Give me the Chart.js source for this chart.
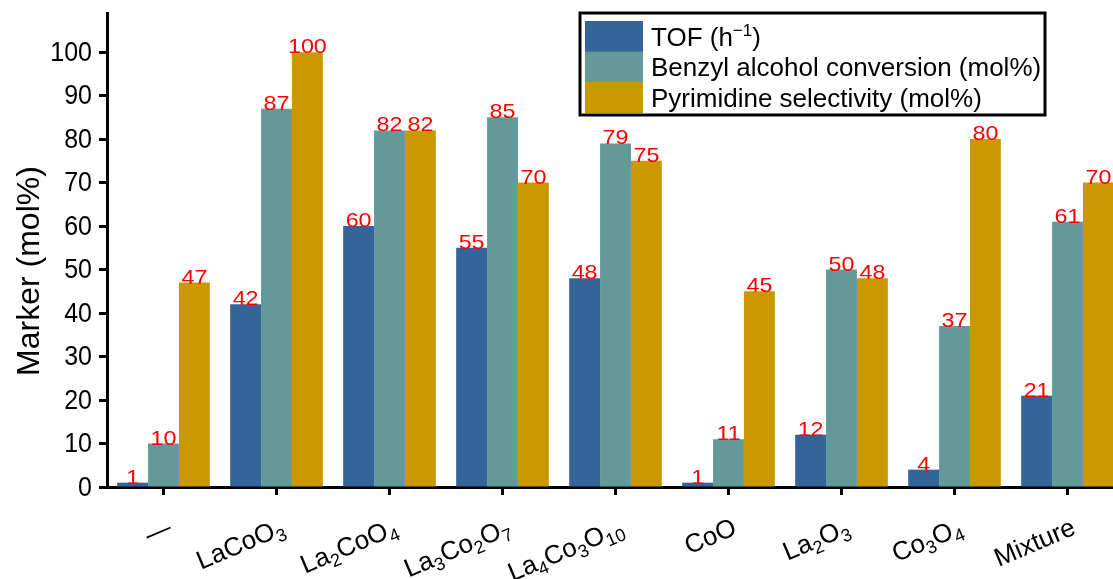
<!DOCTYPE html>
<html><head><meta charset="utf-8">
<script src="https://cdn.jsdelivr.net/npm/chart.js@4/dist/chart.umd.min.js"></script>
<style>
html,body{margin:0;padding:0;background:#fff;overflow:hidden;}
#outer{width:1113px;height:579px;overflow:hidden;position:relative;background:#fff;}
#inner{width:1124px;height:579px;position:absolute;left:0;top:0;}
</style></head><body>
<div id="outer"><div id="inner"><canvas id="c"></canvas></div></div>
<script>
// ---- data ----
const categories = ['—','LaCoO_{3}','La_{2}CoO_{4}','La_{3}Co_{2}O_{7}','La_{4}Co_{3}O_{10}','CoO','La_{2}O_{3}','Co_{3}O_{4}','Mixture'];
const seriesNames = ['TOF (h^{−1})','Benzyl alcohol conversion (mol%)','Pyrimidine selectivity (mol%)'];
const tof = [1,42,60,55,48,1,12,4,21];
const conversion = [10,87,82,85,79,11,50,37,61];
const selectivity = [47,100,82,70,75,45,48,80,70];
const yTicks = [0,10,20,30,40,50,60,70,80,90,100];
const yAxisTitle = 'Marker (mol%)';
const seriesColors = ['rgb(52,101,153)','rgb(99,154,153)','rgb(202,152,0)'];

const FONT = "'Liberation Sans', Arial, sans-serif";

function parseRich(s){
  const out=[]; const re=/([_^])\{([^}]*)\}/g; let last=0,m;
  while((m=re.exec(s))){
    if(m.index>last) out.push({t:s.slice(last,m.index),k:'n'});
    out.push({t:m[2],k:m[1]==='_'?'sub':'sup'});
    last=re.lastIndex;
  }
  if(last<s.length) out.push({t:s.slice(last),k:'n'});
  return out;
}
function drawRich(ctx,s,x,y,size,align,ratio){
  const segs=parseRich(s); const small=Math.round(size*(ratio||0.66));
  let total=0;
  segs.forEach(g=>{ctx.font=(g.k==='n'?size:small)+'px '+FONT; g.w=ctx.measureText(g.t).width; total+=g.w;});
  let cx = align==='right'? x-total : align==='center'? x-total/2 : x;
  ctx.textAlign='left'; ctx.textBaseline='alphabetic';
  segs.forEach(g=>{
    ctx.font=(g.k==='n'?size:small)+'px '+FONT;
    const dy = g.k==='sub'? size*0.22 : g.k==='sup'? -size*0.38 : 0;
    ctx.fillText(g.t,cx,y+dy); cx+=g.w;
  });
}

const customDraw = {
  id:'customDraw',
  afterDatasetsDraw(chart){
    const ctx=chart.ctx;
    ctx.save();
    ctx.fillStyle='#ff0000'; ctx.font='21px '+FONT; ctx.textAlign='center'; ctx.textBaseline='alphabetic';
    chart.data.datasets.forEach((ds,di)=>{
      const meta=chart.getDatasetMeta(di);
      meta.data.forEach((bar,i)=>{
        ctx.save(); ctx.translate(bar.x, bar.y+1); ctx.scale(1.11,1);
        ctx.fillText(String(ds.data[i]),0,0); ctx.restore();
      });
    });
    ctx.restore();
  },
  afterDraw(chart){
    const ctx=chart.ctx; const xs=chart.scales.x; const ys=chart.scales.y; const ca=chart.chartArea;
    // y tick labels
    ctx.save(); ctx.fillStyle='#000'; ctx.font='25px '+FONT; ctx.textAlign='right'; ctx.textBaseline='middle';
    ys.ticks.forEach(t=>{
      const y=ys.getPixelForValue(t.value);
      ctx.save(); ctx.translate(ca.left-15, y+1); ctx.scale(1,1.12); ctx.fillText(String(t.value),0,0); ctx.restore();
    });
    ctx.restore();
    // x labels
    ctx.save(); ctx.fillStyle='#000';
    chart.data.labels.forEach((lab,i)=>{
      const x=xs.getPixelForValue(i);
      ctx.save();
      ctx.translate(x+6, ca.bottom+38);
      ctx.rotate(-23*Math.PI/180);
      drawRich(ctx,lab,0,26*0.36,26,'right',0.7);
      ctx.restore();
    });
    ctx.restore();
    // y title
    ctx.save(); ctx.fillStyle='#000'; ctx.font='32px '+FONT;
    ctx.translate(30,271); ctx.rotate(-Math.PI/2);
    ctx.textAlign='center'; ctx.textBaseline='middle'; ctx.fillText(yAxisTitle,0,0);
    ctx.restore();
    // legend
    ctx.save();
    const lx=580, ly=13, lw=465, lh=102;
    ctx.fillStyle='#fff'; ctx.fillRect(lx,ly,lw,lh);
    const rowH=30.5, sx=585, sw=58, sy=21;
    chart.data.datasets.forEach((ds,di)=>{
      ctx.fillStyle=ds.backgroundColor; ctx.fillRect(sx, sy+di*rowH, sw, rowH+0.5);
      ctx.fillStyle='#000';
      drawRich(ctx, ds.label, 651, sy+di*rowH+rowH/2+26*0.36, 26, 'left');
    });
    ctx.strokeStyle='#000'; ctx.lineWidth=3; ctx.strokeRect(lx,ly,lw,lh);
    ctx.restore();
  }
};

new Chart(document.getElementById('c'),{
  type:'bar',
  data:{
    labels:categories,
    datasets:[
      {label:seriesNames[0],data:tof,backgroundColor:seriesColors[0]},
      {label:seriesNames[1],data:conversion,backgroundColor:seriesColors[1]},
      {label:seriesNames[2],data:selectivity,backgroundColor:seriesColors[2]}
    ]
  },
  options:{
    responsive:true, maintainAspectRatio:false, animation:false,
    datasets:{bar:{categoryPercentage:0.82,barPercentage:1.0,borderWidth:0}},
    layout:{padding:{top:13,left:0,right:0,bottom:0}},
    plugins:{legend:{display:false},tooltip:{enabled:false}},
    scales:{
      x:{
        grid:{display:true,drawOnChartArea:false,drawTicks:true,tickLength:8,tickWidth:3,tickColor:'#000',offset:false},
        border:{display:true,width:3,color:'#000'},
        ticks:{display:false},
        afterFit(s){ s.height=92; }
      },
      y:{
        min:0,max:109,
        afterBuildTicks(s){ s.ticks=yTicks.map(v=>({value:v})); },
        grid:{display:true,drawOnChartArea:false,drawTicks:true,tickLength:8,tickWidth:3,tickColor:'#000'},
        border:{display:true,width:3,color:'#000'},
        ticks:{display:false},
        afterFit(s){ s.width=107; }
      }
    }
  },
  plugins:[customDraw]
});
</script>
</body></html>
